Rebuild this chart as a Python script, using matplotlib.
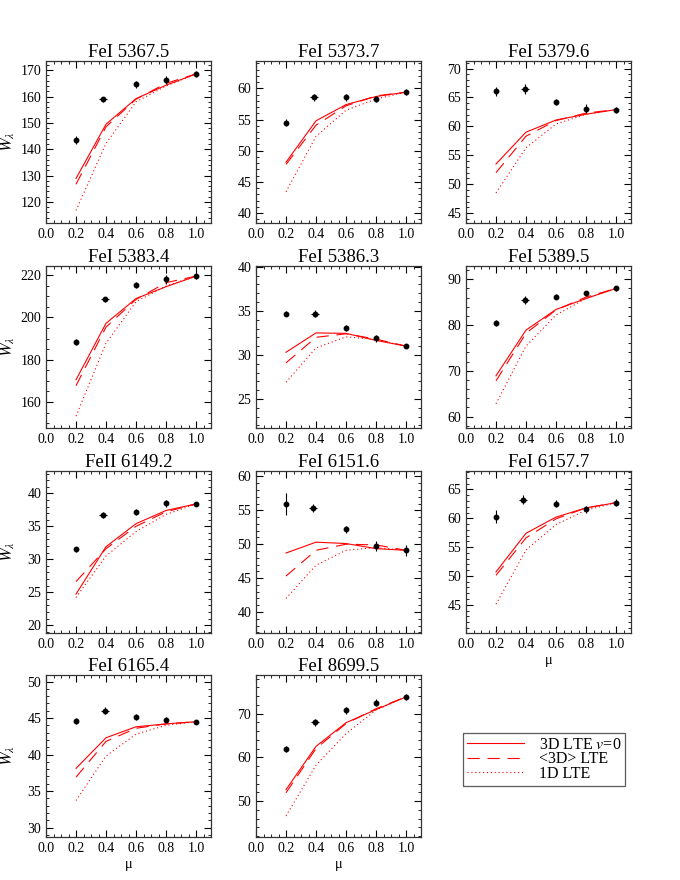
import numpy as np
import matplotlib.pyplot as plt
from matplotlib.ticker import MultipleLocator

plt.rcParams["font.family"] = ["Liberation Serif", "DejaVu Serif"]
plt.rcParams["mathtext.fontset"] = "stix"

lines = ["FeI 5367.5", "FeI 5373.7", "FeI 5379.6", "FeI 5383.4", "FeI 5386.3",
         "FeI 5389.5", "FeII 6149.2", "FeI 6151.6", "FeI 6157.7", "FeI 6165.4",
         "FeI 8699.5"]

mu = [0.2, 0.4, 0.6, 0.8, 1.0]

# x position of the observed point near mu=0.4 differs slightly per line
mu_obs_04 = [0.38, 0.385, 0.395, 0.395, 0.395, 0.395, 0.38, 0.38, 0.38, 0.395, 0.395]
mu_obs_xerr = 0.027

w_obs = [
    [143.4, 158.9, 164.6, 166.2, 168.6],
    [54.5, 58.55, 58.55, 58.3, 59.4],
    [66.05, 66.46, 64.26, 63.04, 62.87],
    [188.4, 208.5, 215.3, 218.0, 219.5],
    [34.7, 34.7, 33.05, 31.9, 31.0],
    [80.4, 85.5, 86.2, 86.9, 88.0],
    [31.5, 36.7, 37.2, 38.5, 38.4],
    [55.9, 55.4, 52.2, 49.7, 49.1],
    [60.3, 63.2, 62.5, 61.6, 62.7],
    [44.6, 46.0, 45.15, 44.8, 44.5],
    [61.9, 68.0, 70.8, 72.5, 73.8],
]
w_err = [
    [1.5, 0.8, 1.2, 1.5, 1.2],
    [0.6, 0.5, 0.6, 0.5, 0.5],
    [0.8, 0.9, 0.5, 0.8, 0.5],
    [1.5, 1.2, 1.5, 2.0, 1.5],
    [0.3, 0.4, 0.3, 0.4, 0.25],
    [0.6, 0.8, 0.6, 0.6, 0.5],
    [0.4, 0.5, 0.5, 0.5, 0.2],
    [1.6, 0.6, 0.5, 0.7, 0.8],
    [1.2, 0.8, 0.6, 0.6, 0.6],
    [0.4, 0.5, 0.4, 0.4, 0.3],
    [0.6, 0.8, 0.8, 0.8, 0.6],
]
w_3d = [
    [128.9, 149.5, 159.2, 164.3, 168.6],
    [48.15, 54.8, 57.4, 58.7, 59.4],
    [53.5, 59.0, 61.1, 62.1, 62.9],
    [170.5, 197.2, 208.9, 214.5, 219.5],
    [30.3, 32.5, 32.45, 31.65, 31.0],
    [68.9, 78.9, 83.4, 85.8, 88.0],
    [24.7, 31.9, 35.4, 37.4, 38.4],
    [48.7, 50.3, 50.1, 49.35, 49.1],
    [50.7, 57.4, 60.2, 61.8, 62.7],
    [38.1, 42.3, 43.8, 44.2, 44.5],
    [52.6, 62.5, 67.9, 70.9, 73.8],
]
w_avg3d = [
    [126.7, 148.5, 159.0, 165.0, 168.6],
    [47.8, 54.1, 57.2, 58.8, 59.4],
    [52.0, 58.3, 61.0, 62.3, 62.9],
    [167.7, 195.4, 208.5, 216.4, 219.5],
    [29.1, 32.0, 32.4, 31.8, 31.0],
    [67.8, 78.2, 83.3, 86.1, 88.0],
    [26.6, 31.6, 35.0, 37.2, 38.4],
    [45.3, 49.1, 50.0, 49.9, 49.1],
    [50.1, 56.6, 59.9, 61.8, 62.7],
    [36.9, 41.8, 43.6, 44.2, 44.5],
    [51.9, 62.0, 67.7, 71.1, 73.8],
]
w_1d = [
    [116.8, 142.2, 158.0, 164.0, 168.5],
    [43.4, 52.3, 56.5, 58.3, 59.4],
    [48.5, 56.3, 60.4, 62.1, 62.9],
    [153.3, 187.8, 207.4, 214.8, 219.5],
    [26.9, 30.8, 32.05, 31.75, 31.0],
    [62.8, 75.4, 82.2, 85.8, 88.0],
    [24.2, 30.5, 34.2, 36.8, 38.4],
    [42.0, 46.9, 49.1, 49.5, 49.1],
    [45.1, 54.5, 58.9, 61.4, 62.7],
    [33.7, 39.8, 42.8, 44.0, 44.5],
    [46.6, 58.2, 65.4, 70.8, 73.8],
]

# axis layout
ylims = [(112, 173.5), (38.4, 64.4), (43.3, 71.3), (147.7, 224.3), (21.7, 40.1),
         (57.5, 92.9), (18.8, 43.4), (36.9, 60.8), (40.1, 68.2), (28.7, 50.9),
         (41.8, 78.8)]
ymajor = [10, 5, 5, 20, 5, 10, 5, 5, 5, 5, 10]
yminor = [2, 1, 1, 5, 1, 2, 1, 1, 1, 1, 2]

lefts = [46, 256, 466]
tops = [61, 266, 471, 675]
W, H = 680, 880
aw, ah = 165, 162

dash = (0, (11, 7))
dots = (0, (1, 2.5))

fig = plt.figure(figsize=(6.8, 8.8), dpi=100)

for i, name in enumerate(lines):
    r, c = divmod(i, 3)
    ax = fig.add_axes([lefts[c] / W, 1 - (tops[r] + ah) / H, aw / W, ah / H])
    ax.plot(mu, w_3d[i], color="red", lw=0.8, ls="-")
    ax.plot(mu, w_avg3d[i], color="red", lw=0.8, ls=dash)
    ax.plot(mu, w_1d[i], color="red", lw=0.8, ls=dots)
    x_obs = [0.2, mu_obs_04[i], 0.6, 0.8, 1.0]
    xerr = [0, mu_obs_xerr, 0, 0, 0]
    ax.errorbar(x_obs, w_obs[i], yerr=w_err[i], xerr=xerr, fmt="o", color="black",
                ms=3.2, elinewidth=0.8, capsize=0)
    ax.set_xlim(0, 1.1)
    ax.set_ylim(*ylims[i])
    ax.xaxis.set_minor_locator(MultipleLocator(0.05))
    ax.yaxis.set_major_locator(MultipleLocator(ymajor[i]))
    ax.yaxis.set_minor_locator(MultipleLocator(yminor[i]))
    ax.set_xticks(np.arange(0, 1.01, 0.2))
    ax.set_xticklabels(["0.0", "0.2", "0.4", "0.6", "0.8", "1.0"])
    ax.tick_params(which="both", direction="in", top=True, right=True, labelsize=10)
    ax.tick_params(which="major", length=5, width=0.8)
    ax.tick_params(which="minor", length=2.5, width=0.6)
    for s in ax.spines.values():
        s.set_linewidth(0.9)
        s.set_color("#333333")
    ax.set_title(name, fontsize=13.5, pad=3)
    if c == 0:
        ax.set_ylabel(r"$W_\lambda$", fontsize=12)
        ax.yaxis.set_label_coords(-0.175, 0.5)
    if i >= 8:
        ax.set_xlabel("μ", fontsize=10.5, labelpad=2)

handles = [
    plt.Line2D([], [], color="red", lw=0.8, ls="-"),
    plt.Line2D([], [], color="red", lw=0.8, ls=dash),
    plt.Line2D([], [], color="red", lw=0.8, ls=dots),
]
labels = [r"3D LTE $v$=0", "<3D> LTE", "1D LTE"]
leg = fig.legend(handles, labels, loc="upper left",
                 bbox_to_anchor=(463 / W, 1 - 733 / H), fontsize=11.5,
                 frameon=True, fancybox=False, edgecolor="#333333",
                 handlelength=3.6, handletextpad=0.9, borderpad=0.25,
                 labelspacing=-0.1, borderaxespad=0)
leg.get_frame().set_linewidth(0.9)

fig.savefig("out.png", dpi=100)
